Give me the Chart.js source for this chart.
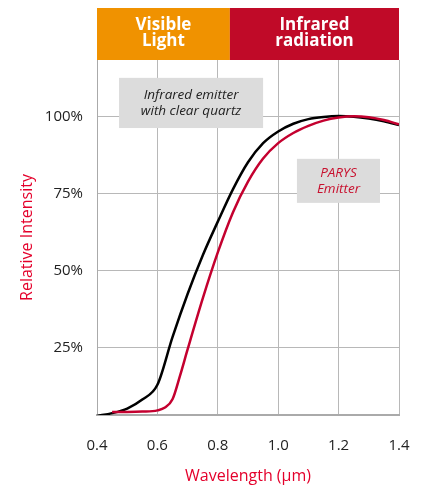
<!DOCTYPE html>
<html>
<head>
<meta charset="utf-8">
<script src="https://cdn.jsdelivr.net/npm/chart.js@4/dist/chart.umd.min.js"></script>
<style>
  html, body { margin: 0; padding: 0; background: #fff; }
  #wrap { width: 428px; height: 486px; }
  canvas { display: block; }
</style>
</head>
<body>
<div id="wrap"><canvas id="myChart"></canvas></div>
<script>
const quartzWavelengths = [0.4, 0.45, 0.5, 0.55, 0.6, 0.65, 0.7, 0.75, 0.8, 0.85, 0.9, 0.95,
    1.0, 1.05, 1.1, 1.15, 1.2, 1.25, 1.3, 1.35, 1.4];
const quartzValues = [2.9, 3.8, 5.3, 8.2, 13, 28.5, 42.5, 55, 66, 76.5, 85.3, 91.5,
    95.3, 97.8, 99.3, 100.0, 100.3, 100.1, 99.5, 98.6, 97.4];
const parysWavelengths = [0.45, 0.5, 0.55, 0.6, 0.625, 0.65, 0.675, 0.7, 0.75, 0.8, 0.85, 0.9,
    0.95, 1.0, 1.05, 1.1, 1.15, 1.2, 1.25, 1.3, 1.35, 1.4];
const parysValues = [4.2, 4.2, 4.3, 4.7, 5.6, 8.3, 16, 24.5, 41, 56, 69, 79,
    86.5, 91.5, 94.8, 97.1, 98.8, 99.8, 100.2, 99.9, 99.0, 97.6];
const yTicks = [25, 50, 75, 100];
const xTicks = [0.4, 0.6, 0.8, 1.0, 1.2, 1.4];
const visibleLimit = 0.84;
const bands = [
    { from: 0.4, to: visibleLimit, color: '#f09200', lines: ['Visible', 'Light'] },
    { from: visibleLimit, to: 1.4, color: '#c00a28', lines: ['Infrared', 'radiation'] }
];
const notes = [
    { x0: 0.473, x1: 0.95, y0: 112.7, y1: 96.4, color: '#222', lines: ['Infrared emitter', 'with clear quartz'] },
    { x0: 1.062, x1: 1.337, y0: 86.4, y1: 72.1, color: '#c8102e', lines: ['PARYS', 'Emitter'] }
];

const FONT = '"Open Sans", sans-serif';

const bandPlugin = {
    id: 'bands',
    afterDraw(chart) {
        const c = chart.ctx, x = chart.scales.x, top = 8, bottom = chart.chartArea.top;
        c.save();
        bands.forEach(b => {
            const l = x.getPixelForValue(b.from), r = x.getPixelForValue(b.to);
            c.fillStyle = b.color;
            c.fillRect(l, top, r - l, bottom - top);
            c.fillStyle = '#fff';
            c.font = 'bold 17px ' + FONT;
            c.textAlign = 'center';
            c.textBaseline = 'middle';
            c.fillText(b.lines[0], (l + r) / 2, 25);
            c.fillText(b.lines[1], (l + r) / 2, 41);
        });
        c.restore();
    }
};

const notePlugin = {
    id: 'notes',
    beforeDatasetsDraw(chart) {
        const c = chart.ctx, x = chart.scales.x, y = chart.scales.y;
        c.save();
        notes.forEach(n => {
            const l = x.getPixelForValue(n.x0), r = x.getPixelForValue(n.x1);
            const t = y.getPixelForValue(n.y0), b = y.getPixelForValue(n.y1);
            c.fillStyle = '#dcdcdc';
            c.fillRect(l, t, r - l, b - t);
            c.fillStyle = n.color;
            c.font = 'italic 13.5px ' + FONT;
            c.textAlign = 'center';
            c.textBaseline = 'middle';
            const cy = (t + b) / 2;
            c.fillText(n.lines[0], (l + r) / 2, cy - 8);
            c.fillText(n.lines[1], (l + r) / 2, cy + 8);
        });
        c.restore();
    }
};

new Chart(document.getElementById('myChart'), {
    type: 'line',
    data: {
        datasets: [{
            label: 'PARYS Emitter',
            data: parysWavelengths.map((w, i) => ({ x: w, y: parysValues[i] })),
            borderColor: '#c4002f',
            borderWidth: 2.5,
            pointRadius: 0,
            cubicInterpolationMode: 'monotone'
        }, {
            label: 'Infrared emitter with clear quartz',
            data: quartzWavelengths.map((w, i) => ({ x: w, y: quartzValues[i] })),
            borderColor: '#000',
            borderWidth: 2.5,
            pointRadius: 0,
            cubicInterpolationMode: 'monotone'
        }]
    },
    options: {
        responsive: true,
        maintainAspectRatio: false,
        animation: false,
        layout: { padding: { top: 60, right: 29, left: 0, bottom: 0 } },
        plugins: { legend: { display: false }, tooltip: { enabled: false } },
        scales: {
            x: {
                type: 'linear',
                min: 0.4,
                max: 1.4,
                afterBuildTicks: s => { s.ticks = xTicks.map(v => ({ value: v })); },
                afterFit: s => { s.height = 71; s.paddingLeft = 0; s.paddingRight = 0; },
                grid: { color: '#b8b8b8', lineWidth: 1, drawTicks: false },
                border: { color: '#aaa', width: 2 },
                ticks: {
                    padding: 22,
                    color: '#222',
                    font: { family: FONT, size: 15 },
                    callback: v => v.toFixed(1)
                },
                title: {
                    display: true,
                    text: 'Wavelength (µm)',
                    color: '#e4002b',
                    font: { family: FONT, size: 16 },
                    padding: { top: 0, bottom: 0 }
                }
            },
            y: {
                min: 3.2,
                max: 118.5,
                afterBuildTicks: s => { s.ticks = yTicks.map(v => ({ value: v })); },
                afterFit: s => { s.width = 97; },
                grid: { color: '#b8b8b8', lineWidth: 1, drawTicks: false },
                border: { color: '#aaa', width: 1 },
                ticks: {
                    padding: 14,
                    color: '#222',
                    font: { family: FONT, size: 15 },
                    callback: v => v + '%'
                },
                title: {
                    display: true,
                    text: 'Relative Intensity',
                    color: '#e4002b',
                    font: { family: FONT, size: 16 },
                    padding: { top: 18, bottom: 0 }
                }
            }
        }
    },
    plugins: [bandPlugin, notePlugin]
});
</script>
</body>
</html>
